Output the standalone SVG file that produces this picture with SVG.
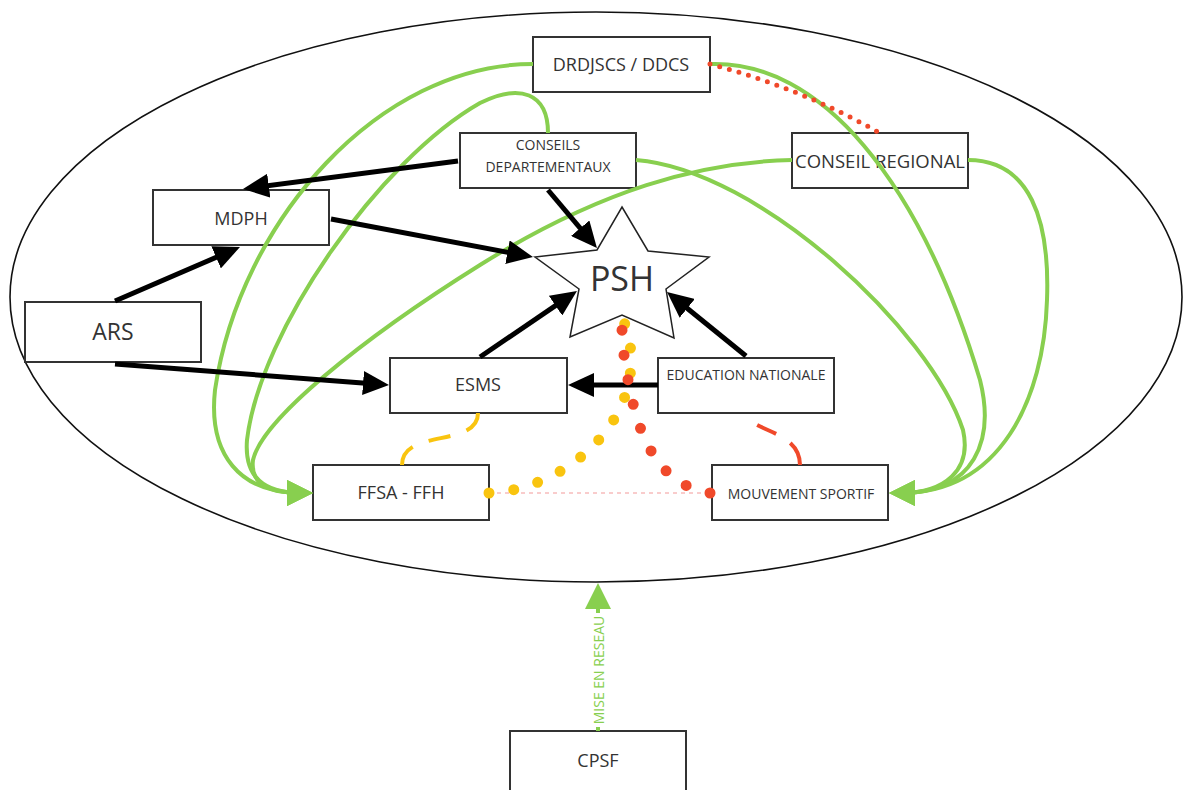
<svg xmlns="http://www.w3.org/2000/svg" width="1188" height="790" viewBox="0 0 1188 790">
<style>
.box{fill:#fff;stroke:#333;stroke-width:2}
.t{font-family:"Open Sans","Liberation Sans",sans-serif;fill:#333;text-anchor:middle;dominant-baseline:central}
.blk{fill:none;stroke:#000;stroke-width:5}
.grn{fill:none;stroke:#88cf4f;stroke-width:4}
.ydot{fill:none;stroke:#f9c40f;stroke-width:11;stroke-linecap:round;stroke-dasharray:0 25}
.rdot{fill:none;stroke:#f0492a;stroke-width:11;stroke-linecap:round;stroke-dasharray:0 25}
</style>
<defs>
<marker id="ab" markerUnits="userSpaceOnUse" viewBox="0 0 26 24" markerWidth="26" markerHeight="24" refX="16" refY="12" orient="auto"><path d="M0,0 L26,12 L0,24 z" fill="#000"/></marker>
<marker id="ag" markerUnits="userSpaceOnUse" viewBox="0 0 26 26" markerWidth="26" markerHeight="26" refX="14" refY="13" orient="auto"><path d="M0,0 L26,13 L0,26 z" fill="#88cf4f"/></marker>
</defs>
<rect width="1188" height="790" fill="#fff"/>
<ellipse cx="596" cy="297" rx="586" ry="285" fill="none" stroke="#111" stroke-width="1.6"/>

<g id="drdjscs"><rect class="box" x="533" y="37" width="177" height="55"/><text class="t" x="621" y="64" font-size="18">DRDJSCS / DDCS</text></g>
<g id="conseils-departementaux"><rect class="box" x="460" y="133" width="176" height="55"/><text class="t" x="548" y="144" font-size="14">CONSEILS</text><text class="t" x="548" y="166" font-size="14">DEPARTEMENTAUX</text></g>
<g id="conseil-regional"><rect class="box" x="792" y="133" width="176" height="55"/><text class="t" x="880" y="160" font-size="18.5">CONSEIL REGIONAL</text></g>
<g id="mdph"><rect class="box" x="153" y="190" width="176" height="55"/><text class="t" x="241" y="218" font-size="18">MDPH</text></g>
<g id="ars"><rect class="box" x="25" y="302" width="176" height="60"/><text class="t" x="113" y="331" font-size="23">ARS</text></g>
<g id="psh"><polygon points="622,207 648,251 709,257 666,289 674,338 622,315 570,337 579,289 535,257 597,250" fill="#fff" stroke="#222" stroke-width="1.5" stroke-linejoin="miter"/><text class="t" x="622" y="278" font-size="34">PSH</text></g>
<g id="esms"><rect class="box" x="390" y="358" width="177" height="55"/><text class="t" x="478" y="384" font-size="18">ESMS</text></g>
<g id="education-nationale"><rect class="box" x="658" y="358" width="176" height="55"/><text class="t" x="746" y="374" font-size="14">EDUCATION NATIONALE</text></g>
<g id="ffsa-ffh"><rect class="box" x="313" y="465" width="176" height="55"/><text class="t" x="401" y="492" font-size="18">FFSA - FFH</text></g>
<g id="mouvement-sportif"><rect class="box" x="712" y="465" width="176" height="55"/><text class="t" x="801" y="493" font-size="14">MOUVEMENT SPORTIF</text></g>
<g id="cpsf"><rect class="box" x="510" y="731" width="176" height="65"/><text class="t" x="598" y="760" font-size="18">CPSF</text></g>

<g id="connectors">
<path class="grn" marker-end="url(#ag)" d="M533 64 C 380 64, 240 220, 215 390 C 208 455, 240 493, 301 493"/>
<path class="grn" marker-end="url(#ag)" d="M548 133 C 548 93, 520 83, 480 103 C 380 160, 260 330, 247 440 C 244 478, 265 493, 301 493"/>
<path class="grn" marker-end="url(#ag)" d="M792 160 C 700 162, 600 190, 480 265 C 360 340, 262 420, 253 460 C 250 485, 270 493, 301 493"/>
<path class="grn" marker-end="url(#ag)" d="M636 160 C 760 170, 930 330, 963 430 C 972 470, 945 493, 901 493"/>
<path class="grn" marker-end="url(#ag)" d="M710 64 C 820 60, 920 180, 980 380 C 995 440, 975 493, 901 493"/>
<path class="grn" marker-end="url(#ag)" d="M968 160 C 1030 160, 1050 220, 1047 300 C 1044 400, 1000 493, 901 493"/>

<path d="M710 64 Q 800 88 878 132" fill="none" stroke="#f0492a" stroke-width="5" stroke-linecap="round" stroke-dasharray="0 10"/>

<path class="blk" marker-end="url(#ab)" d="M458 161 L252.9 187.7"/>
<path class="blk" marker-end="url(#ab)" d="M331 219 L523.2 255.2"/>
<path class="blk" marker-end="url(#ab)" d="M548 190 L590.5 240.4"/>
<path class="blk" marker-end="url(#ab)" d="M115 301 L230.8 251"/>
<path class="blk" marker-end="url(#ab)" d="M115 364 L379 384.2"/>
<path class="blk" marker-end="url(#ab)" d="M480 357 L568.7 296.6"/>
<path class="blk" marker-end="url(#ab)" d="M746 356 L674.8 298.3"/>
<path class="blk" marker-end="url(#ab)" d="M658 385 L578 385"/>

<path d="M478 413 C 478 448, 402 428, 402 465" pathLength="100" fill="none" stroke="#f9c40f" stroke-width="4" stroke-dasharray="22 17 22 17 22"/>
<path d="M745 413 C 750 432, 800 430, 800 465" pathLength="100" fill="none" stroke="#f0492a" stroke-width="4" stroke-dasharray="0 22 26 21 31"/>

<path d="M489 493 L712 493" fill="none" stroke="#f39a9a" stroke-width="1.2" stroke-dasharray="4 4"/>
<path class="ydot" d="M489 493 C 560 490, 632 430, 631 360 C 631 340, 627 330, 624 322"/>
<path class="rdot" d="M710 493 C 660 485, 640 440, 630 390 C 625 365, 622 345, 622 328"/>

<path class="grn" stroke-width="3" marker-end="url(#ag)" d="M598 731 L598 595"/>
<rect x="590" y="613" width="16" height="114" fill="#fff"/>
<text class="t" x="598" y="670" font-size="14" style="fill:#88cf4f" transform="rotate(-90 598 670)">MISE EN RESEAU</text>
</g>
</svg>
